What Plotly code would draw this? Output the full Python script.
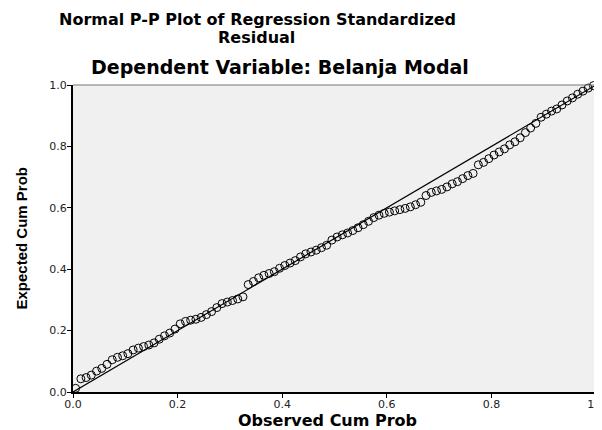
import plotly.graph_objects as go

observed_cum_prob = [
    0.005, 0.015, 0.025, 0.035, 0.045, 0.055, 0.065, 0.075, 0.085, 0.095,
    0.105, 0.115, 0.125, 0.135, 0.145, 0.155, 0.165, 0.175, 0.185, 0.195,
    0.205, 0.215, 0.225, 0.235, 0.245, 0.255, 0.265, 0.275, 0.285, 0.295,
    0.305, 0.315, 0.325, 0.335, 0.345, 0.355, 0.365, 0.375, 0.385, 0.395,
    0.405, 0.415, 0.425, 0.435, 0.445, 0.455, 0.465, 0.475, 0.485, 0.495,
    0.505, 0.515, 0.525, 0.535, 0.545, 0.555, 0.565, 0.575, 0.585, 0.595,
    0.605, 0.615, 0.625, 0.635, 0.645, 0.655, 0.665, 0.675, 0.685, 0.695,
    0.705, 0.715, 0.725, 0.735, 0.745, 0.755, 0.765, 0.775, 0.785, 0.795,
    0.805, 0.815, 0.825, 0.835, 0.845, 0.855, 0.865, 0.875, 0.885, 0.895,
    0.905, 0.915, 0.925, 0.935, 0.945, 0.955, 0.965, 0.975, 0.985, 0.995,
]
expected_cum_prob = [
    0.012, 0.043, 0.047, 0.055, 0.068, 0.077, 0.090, 0.105, 0.113, 0.118,
    0.125, 0.137, 0.143, 0.148, 0.153, 0.160, 0.172, 0.183, 0.192, 0.205,
    0.222, 0.230, 0.234, 0.237, 0.243, 0.252, 0.262, 0.275, 0.288, 0.293,
    0.298, 0.303, 0.310, 0.350, 0.360, 0.372, 0.380, 0.386, 0.392, 0.403,
    0.412, 0.420, 0.428, 0.440, 0.450, 0.456, 0.462, 0.470, 0.478, 0.495,
    0.505, 0.512, 0.518, 0.526, 0.535, 0.545, 0.556, 0.568, 0.576, 0.582,
    0.586, 0.590, 0.594, 0.598, 0.603, 0.610, 0.618, 0.640, 0.650, 0.655,
    0.660, 0.668, 0.678, 0.685, 0.695, 0.705, 0.712, 0.740, 0.748, 0.760,
    0.772, 0.782, 0.792, 0.805, 0.815, 0.828, 0.845, 0.860, 0.875, 0.895,
    0.905, 0.915, 0.922, 0.935, 0.948, 0.958, 0.970, 0.980, 0.990, 0.998,
]
ref_line = [0.0, 1.0]
tick_vals = [0.0, 0.2, 0.4, 0.6, 0.8, 1.0]
tick_text = ["0.0", "0.2", "0.4", "0.6", "0.8", "1.0"]

title_line1 = "Normal P-P Plot of Regression Standardized"
title_line2 = "Residual"
subtitle_text = "Dependent Variable: Belanja Modal"
x_title = "Observed Cum Prob"
y_title = "Expected Cum Prob"

WIDE = "DejaVu Sans, Verdana, sans-serif"

fig = go.Figure()
fig.add_trace(go.Scatter(
    x=ref_line, y=ref_line, mode="lines",
    line=dict(color="black", width=1.2), hoverinfo="skip", showlegend=False,
))
fig.add_trace(go.Scatter(
    x=observed_cum_prob, y=expected_cum_prob, mode="markers",
    marker=dict(symbol="circle-open", size=8, color="black", line=dict(width=1, color="black")),
    cliponaxis=False, showlegend=False,
))

axis_common = dict(
    range=[0, 1], tickvals=tick_vals, ticktext=tick_text,
    ticks="outside", ticklen=4, tickcolor="black", tickwidth=1,
    showgrid=False, zeroline=False, showline=True, linecolor="black", linewidth=2,
    tickfont=dict(family=WIDE, size=11, color="#222"),
    ticklabeloverflow="allow", automargin=False,
)

fig.update_layout(
    width=594, height=422,
    margin=dict(l=65, r=6, t=77, b=38),
    paper_bgcolor="white", plot_bgcolor="#f0f0f0",
    xaxis=dict(**axis_common, ticklabelstandoff=-3),
    yaxis=dict(**axis_common, ticklabelstandoff=-2),
    annotations=[
        dict(text="<b>" + title_line1 + "</b>", xref="paper", yref="paper",
             x=0.352, y=1.0, yshift=66, yanchor="middle", xanchor="center", showarrow=False,
             font=dict(family=WIDE, size=16, color="black")),
        dict(text="<b>" + title_line2 + "</b>", xref="paper", yref="paper",
             x=0.350, y=1.0, yshift=48, yanchor="middle", xanchor="center", showarrow=False,
             font=dict(family=WIDE, size=16, color="black")),
        dict(text="<b>" + subtitle_text + "</b>", xref="paper", yref="paper",
             x=0.396, y=1.0, yshift=18, yanchor="middle", xanchor="center", showarrow=False,
             font=dict(family=WIDE, size=19, color="black")),
        dict(text="<b>" + x_title + "</b>", xref="paper", yref="paper",
             x=0.486, y=0, yshift=-28, yanchor="middle", xanchor="center", showarrow=False,
             font=dict(family=WIDE, size=16, color="black")),
        dict(text="<b>" + y_title + "</b>", xref="paper", yref="paper",
             x=0, xshift=-52, y=0.5, xanchor="center", yanchor="middle", textangle=-90, showarrow=False,
             font=dict(family="Liberation Sans Narrow, Liberation Sans, Arial, sans-serif", size=15, color="black")),
    ],
    shapes=[
        dict(type="line", xref="paper", yref="paper", x0=0, x1=1, y0=1, y1=1,
             line=dict(color="#777", width=1)),
        dict(type="line", xref="paper", yref="paper", x0=1, x1=1, y0=0, y1=1,
             line=dict(color="#333", width=1)),
    ],
)

fig.write_html("out.html")
